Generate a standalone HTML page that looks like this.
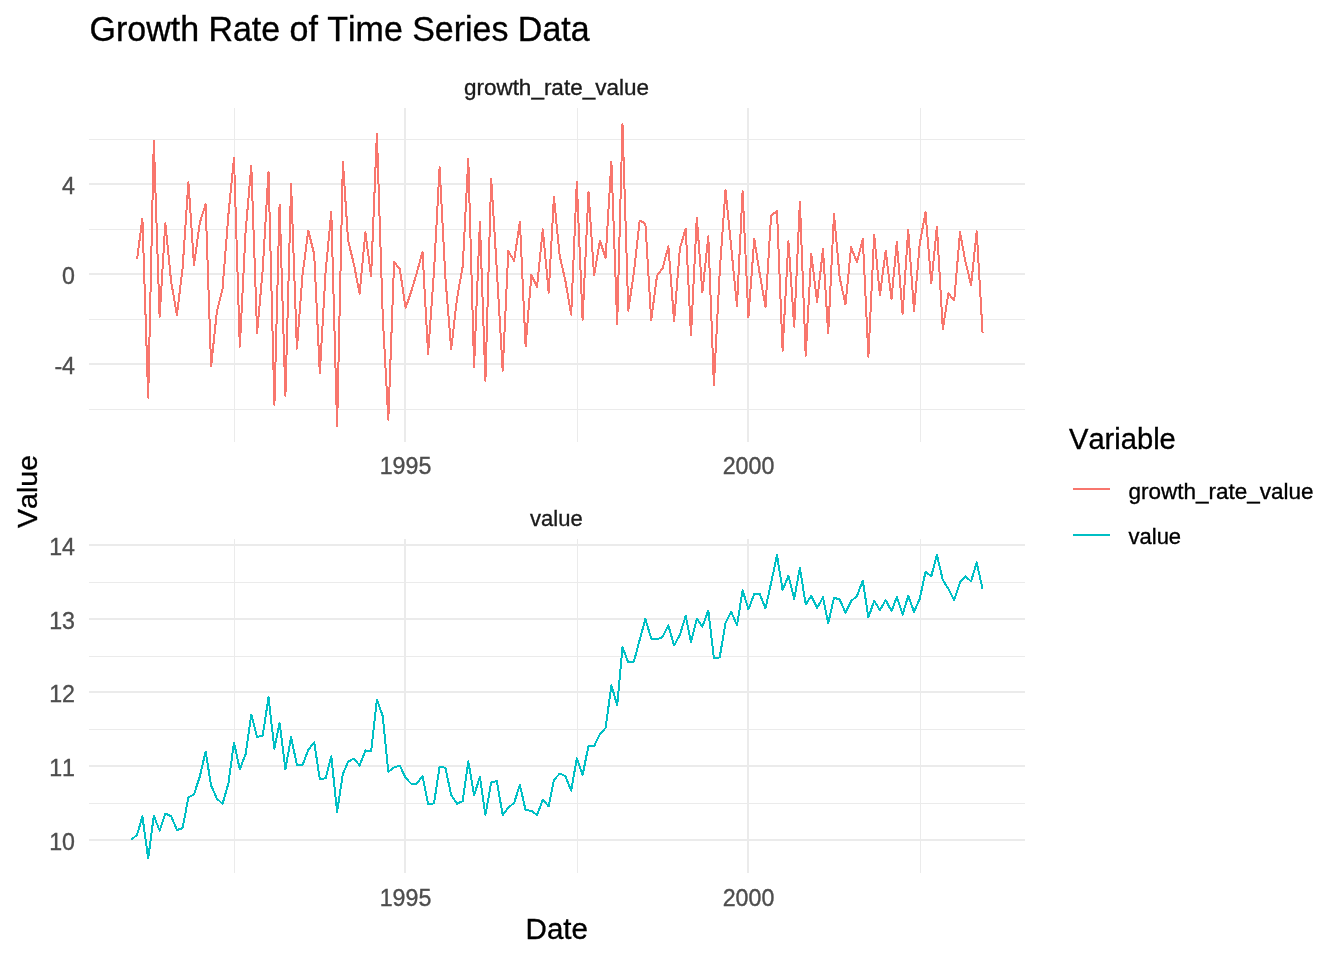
<!DOCTYPE html>
<html><head><meta charset="utf-8"><title>Growth Rate of Time Series Data</title>
<style>html,body{margin:0;padding:0;background:#fff}body{width:1344px;height:960px;overflow:hidden}svg{display:block}text{font-family:"Liberation Sans",Arial,sans-serif;stroke-width:0.35px;paint-order:stroke fill;font-kerning:none}</style></head><body>
<svg width="1344" height="960" viewBox="0 0 1344 960">
<rect width="1344" height="960" fill="#fff"/>
<g fill="#EBEBEB" shape-rendering="crispEdges">
<rect x="89" y="139" width="936" height="1"/>
<rect x="89" y="229" width="936" height="1"/>
<rect x="89" y="319" width="936" height="1"/>
<rect x="89" y="409" width="936" height="1"/>
<rect x="234" y="108" width="1" height="334"/>
<rect x="577" y="108" width="1" height="334"/>
<rect x="920" y="108" width="1" height="334"/>
<rect x="89" y="183" width="936" height="2"/>
<rect x="89" y="273" width="936" height="2"/>
<rect x="89" y="363" width="936" height="2"/>
<rect x="404" y="108" width="2" height="334"/>
<rect x="747" y="108" width="2" height="334"/>
</g>
<g fill="#EBEBEB" shape-rendering="crispEdges">
<rect x="89" y="582" width="936" height="1"/>
<rect x="89" y="656" width="936" height="1"/>
<rect x="89" y="729" width="936" height="1"/>
<rect x="89" y="803" width="936" height="1"/>
<rect x="234" y="539" width="1" height="334"/>
<rect x="577" y="539" width="1" height="334"/>
<rect x="920" y="539" width="1" height="334"/>
<rect x="89" y="544" width="936" height="2"/>
<rect x="89" y="618" width="936" height="2"/>
<rect x="89" y="691" width="936" height="2"/>
<rect x="89" y="765" width="936" height="2"/>
<rect x="89" y="839" width="936" height="2"/>
<rect x="404" y="539" width="2" height="334"/>
<rect x="747" y="539" width="2" height="334"/>
</g>
<polyline points="137.1,258.9 142.4,218.6 148.2,397.7 153.8,140.9 159.6,317.2 165.3,223.2 171.1,281.4 176.9,315.1 182.6,268.1 188.4,182.0 194.0,264.9 199.8,222.8 205.6,204.2 211.1,366.4 216.9,311.3 222.5,289.2 228.4,214.8 234.0,157.8 239.8,346.6 245.6,231.6 251.3,165.8 257.1,332.8 262.7,270.0 268.5,171.7 274.4,405.1 279.6,204.5 285.4,395.9 291.1,184.2 296.9,348.7 302.5,275.0 308.3,230.6 314.2,254.2 319.8,372.9 325.6,271.8 331.3,212.1 337.1,426.3 342.9,161.8 348.1,240.6 354.0,264.6 359.6,293.7 365.4,232.4 371.1,276.2 376.9,133.7 382.7,315.3 388.3,419.7 394.1,262.1 399.8,269.0 405.6,308.0 411.4,290.9 416.7,273.3 422.5,251.8 428.1,353.7 434.0,271.5 439.6,167.0 445.4,277.8 451.2,349.1 456.9,299.1 462.7,266.4 468.3,159.1 474.1,366.8 479.9,221.9 485.4,380.9 491.2,178.5 496.8,269.4 502.7,370.7 508.3,251.0 514.1,260.9 519.9,221.5 525.6,346.3 531.4,274.8 537.0,286.9 542.8,229.3 548.7,292.8 553.9,197.0 559.7,255.9 565.4,280.9 571.2,314.7 576.8,181.9 582.6,319.8 588.5,191.7 594.1,275.4 599.9,240.8 605.6,257.9 611.4,161.5 617.2,324.1 622.5,124.1 628.3,310.7 633.9,272.2 639.7,220.6 645.4,223.6 651.2,320.2 657.0,275.8 662.6,268.4 668.4,246.4 674.1,321.4 679.9,248.3 685.7,228.6 691.0,335.5 696.8,217.5 702.4,292.5 708.3,236.2 713.9,384.8 719.7,272.1 725.5,189.9 731.2,247.1 737.0,306.1 742.6,191.0 748.4,317.2 754.3,238.8 759.7,273.7 765.5,306.9 771.1,215.3 777.0,211.3 782.6,350.6 788.4,240.9 794.2,326.7 799.9,202.0 805.7,355.8 811.3,254.1 817.1,301.9 823.0,249.2 828.2,333.6 834.0,214.1 839.7,277.7 845.5,304.4 851.1,247.2 856.9,262.1 862.8,239.1 868.4,356.8 874.2,235.0 879.9,295.5 885.7,250.7 891.5,299.1 896.8,241.8 902.6,313.6 908.2,230.0 914.0,310.9 919.7,243.9 925.5,212.2 931.3,283.3 936.9,226.6 942.8,329.2 948.4,293.3 954.2,300.5 960.0,232.3 965.3,260.8 971.1,285.2 976.7,231.2 982.6,333.2" fill="none" stroke="#F8766D" stroke-width="2" stroke-linejoin="round" stroke-linecap="butt" shape-rendering="crispEdges"/>
<polyline points="131.3,839.8 137.1,834.8 142.4,816.5 148.2,858.4 153.8,815.8 159.6,830.5 165.3,813.6 171.1,816.1 176.9,830.0 182.6,828.1 188.4,797.4 194.0,794.3 199.8,776.5 205.6,751.6 211.1,785.5 216.9,798.6 222.5,803.9 228.4,783.5 234.0,742.5 239.8,769.4 245.6,754.2 251.3,714.6 257.1,737.1 262.7,735.6 268.5,697.4 274.4,748.7 279.6,723.0 285.4,769.3 291.1,737.0 296.9,765.0 302.5,765.3 308.3,749.7 314.2,742.4 319.8,779.1 325.6,778.3 331.3,756.3 337.1,811.9 342.9,773.7 348.1,761.8 354.0,758.4 359.6,765.5 365.4,750.5 371.1,751.3 376.9,699.8 382.7,715.9 388.3,771.7 394.1,767.4 399.8,765.6 405.6,777.9 411.4,783.9 416.7,783.7 422.5,775.9 428.1,804.2 434.0,803.4 439.6,766.6 445.4,767.9 451.2,795.0 456.9,803.7 462.7,801.1 468.3,761.4 474.1,795.1 479.9,777.0 485.4,815.0 491.2,782.6 496.8,781.0 502.7,815.2 508.3,807.5 514.1,803.0 519.9,784.9 525.6,810.4 531.4,810.6 537.0,815.0 542.8,799.9 548.7,806.4 553.9,780.0 559.7,773.6 565.4,776.1 571.2,790.6 576.8,758.4 582.6,775.0 588.5,745.7 594.1,746.2 599.9,734.0 605.6,727.9 611.4,685.4 617.2,705.3 622.5,647.2 628.3,662.4 633.9,661.6 639.7,639.9 645.4,618.9 651.2,638.5 657.0,639.3 662.6,637.0 668.4,625.5 674.1,645.5 679.9,634.8 685.7,615.8 691.0,642.1 696.8,618.6 702.4,626.5 708.3,610.5 713.9,658.1 719.7,657.4 725.5,623.0 731.2,611.6 737.0,625.4 742.6,590.2 748.4,609.2 754.3,594.0 759.7,593.9 765.5,608.3 771.1,583.0 777.0,555.3 782.6,590.1 788.4,575.6 794.2,599.0 799.9,567.7 805.7,604.5 811.3,595.8 817.1,608.0 823.0,597.3 828.2,623.2 834.0,597.8 839.7,599.5 845.5,612.7 851.1,601.2 856.9,596.0 862.8,580.8 868.4,617.4 874.2,600.8 879.9,610.1 885.7,600.1 891.5,611.0 896.8,597.2 902.6,614.5 908.2,595.7 914.0,611.8 919.7,598.9 925.5,572.0 931.3,576.2 936.9,555.0 942.8,580.1 948.4,588.7 954.2,600.3 960.0,582.2 965.3,576.4 971.1,581.4 976.7,562.5 982.6,589.2" fill="none" stroke="#00BFC4" stroke-width="2" stroke-linejoin="round" stroke-linecap="butt" shape-rendering="crispEdges"/>
<text x="89.6" y="40.7" font-size="34.4" fill="#000" stroke="#000" textLength="500" lengthAdjust="spacingAndGlyphs">Growth Rate of Time Series Data</text>
<g font-size="22.8" fill="#1A1A1A" stroke="#1A1A1A" text-anchor="middle"><text x="556.4" y="95" textLength="185" lengthAdjust="spacingAndGlyphs">growth_rate_value</text><text x="556.4" y="526.4" textLength="52.6" lengthAdjust="spacingAndGlyphs">value</text></g>
<g font-size="23.2" fill="#4D4D4D" stroke="#4D4D4D" text-anchor="end">
<text x="75.0" y="193.6">4</text>
<text x="75.0" y="283.6">0</text>
<text x="75.0" y="373.6">-4</text>
<text x="75.0" y="554.6">14</text>
<text x="75.0" y="628.6">13</text>
<text x="75.0" y="701.6">12</text>
<text x="75.0" y="775.6">11</text>
<text x="75.0" y="849.6">10</text>
</g>
<g font-size="23.2" fill="#4D4D4D" stroke="#4D4D4D" text-anchor="middle">
<text x="405.5" y="473.6">1995</text><text x="748.5" y="473.6">2000</text>
<text x="405.5" y="906">1995</text><text x="748.5" y="906">2000</text>
</g>
<g font-size="29" fill="#000" stroke="#000"><text x="556.8" y="939.2" text-anchor="middle" textLength="62.4" lengthAdjust="spacingAndGlyphs">Date</text>
<text transform="translate(36.6,491.5) rotate(-90)" font-size="28.2" text-anchor="middle" textLength="73" lengthAdjust="spacingAndGlyphs">Value</text>
<text x="1069" y="448.6" textLength="106.8" lengthAdjust="spacingAndGlyphs">Variable</text></g>
<g shape-rendering="crispEdges"><rect x="1073" y="488" width="37" height="2" fill="#F8766D"/><rect x="1073" y="534" width="37" height="2" fill="#00BFC4"/></g>
<g font-size="22.8" fill="#000" stroke="#000"><text x="1128.5" y="498.5" textLength="185" lengthAdjust="spacingAndGlyphs">growth_rate_value</text><text x="1128.5" y="544.3" textLength="52.6" lengthAdjust="spacingAndGlyphs">value</text></g>
</svg></body></html>
